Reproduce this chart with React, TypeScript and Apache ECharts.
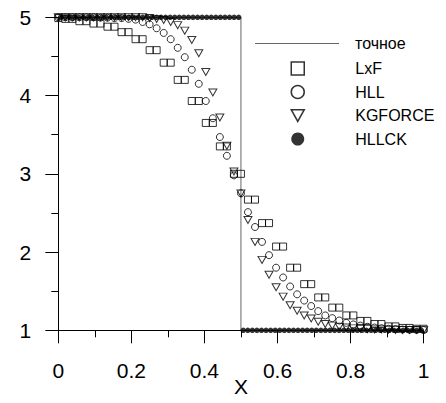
import React, { useEffect, useRef } from "react";
import * as echarts from "echarts";

const FONT = "'Liberation Sans', Arial, sans-serif";

// exact solution (step)
const exactX = [0, 0.5, 0.5, 1];
const exactY = [5, 5, 1, 1];

// grid nodes for LxF, HLL, KGFORCE
const meshX = [
  0, 0.0192, 0.0385, 0.0577, 0.0769, 0.0962, 0.1154, 0.1346, 0.1538, 0.1731,
  0.1923, 0.2115, 0.2308, 0.25, 0.2692, 0.2885, 0.3077, 0.3269, 0.3462, 0.3654,
  0.3846, 0.4038, 0.4231, 0.4423, 0.4615, 0.4808, 0.5, 0.5192, 0.5385, 0.5577,
  0.5769, 0.5962, 0.6154, 0.6346, 0.6538, 0.6731, 0.6923, 0.7115, 0.7308, 0.75,
  0.7692, 0.7885, 0.8077, 0.8269, 0.8462, 0.8654, 0.8846, 0.9038, 0.9231, 0.9423,
  0.9615, 0.9808, 1,
];

const lxfY = [
  4.99, 4.98, 4.98, 4.95, 4.95, 4.92, 4.92, 4.88, 4.88, 4.81,
  4.81, 4.72, 4.72, 4.58, 4.58, 4.42, 4.42, 4.2, 4.2, 3.93,
  3.93, 3.65, 3.65, 3.35, 3.35, 3.0, 3.0, 2.67, 2.67, 2.37,
  2.37, 2.07, 2.07, 1.8, 1.8, 1.59, 1.59, 1.42, 1.42, 1.29,
  1.29, 1.19, 1.19, 1.12, 1.12, 1.08, 1.08, 1.05, 1.05, 1.03,
  1.03, 1.02, 1.02,
];

const hllY = [
  5.0, 5.0, 5.0, 5.0, 5.0, 5.0, 4.995, 4.995, 4.99, 4.99,
  4.98, 4.97, 4.94, 4.91, 4.86, 4.8, 4.72, 4.61, 4.49, 4.33,
  4.15, 3.93, 3.71, 3.47, 3.23, 2.98, 2.75, 2.51, 2.32, 2.13,
  1.96, 1.8, 1.675, 1.56, 1.46, 1.38, 1.31, 1.245, 1.19, 1.155,
  1.125, 1.095, 1.075, 1.06, 1.045, 1.035, 1.027, 1.02, 1.015, 1.01,
  1.007, 1.005, 1.003,
];

const kgY = [
  5.0, 5.0, 5.0, 5.0, 5.0, 5.0, 5.0, 5.0, 5.0, 5.0,
  5.0, 5.0, 5.0, 4.99, 4.98, 4.965, 4.94, 4.9, 4.83, 4.71,
  4.54, 4.3, 4.04, 3.72, 3.36, 3.03, 2.75, 2.41, 2.13, 1.9,
  1.71, 1.55, 1.43, 1.32, 1.25, 1.19, 1.15, 1.11, 1.08, 1.06,
  1.045, 1.035, 1.025, 1.02, 1.015, 1.01, 1.01, 1.008, 1.006, 1.005,
  1.004, 1.003, 1.002,
];

// HLLCK cell centres (80 cells)
const cellX = [
  0.00625, 0.01875, 0.03125, 0.04375, 0.05625, 0.06875, 0.08125, 0.09375,
  0.10625, 0.11875, 0.13125, 0.14375, 0.15625, 0.16875, 0.18125, 0.19375,
  0.20625, 0.21875, 0.23125, 0.24375, 0.25625, 0.26875, 0.28125, 0.29375,
  0.30625, 0.31875, 0.33125, 0.34375, 0.35625, 0.36875, 0.38125, 0.39375,
  0.40625, 0.41875, 0.43125, 0.44375, 0.45625, 0.46875, 0.48125, 0.49375,
  0.50625, 0.51875, 0.53125, 0.54375, 0.55625, 0.56875, 0.58125, 0.59375,
  0.60625, 0.61875, 0.63125, 0.64375, 0.65625, 0.66875, 0.68125, 0.69375,
  0.70625, 0.71875, 0.73125, 0.74375, 0.75625, 0.76875, 0.78125, 0.79375,
  0.80625, 0.81875, 0.83125, 0.84375, 0.85625, 0.86875, 0.88125, 0.89375,
  0.90625, 0.91875, 0.93125, 0.94375, 0.95625, 0.96875, 0.98125, 0.99375,
];
const hllckY = [
  5, 5, 5, 5, 5, 5, 5, 5, 5, 5, 5, 5, 5, 5, 5, 5, 5, 5, 5, 5,
  5, 5, 5, 5, 5, 5, 5, 5, 5, 5, 5, 5, 5, 5, 5, 5, 5, 5, 5, 5,
  1, 1, 1, 1, 1, 1, 1, 1, 1, 1, 1, 1, 1, 1, 1, 1, 1, 1, 1, 1,
  1, 1, 1, 1, 1, 1, 1, 1, 1, 1, 1, 1, 1, 1, 1, 1, 1, 1, 1, 1,
];

const zip = (xs: number[], ys: number[]) => xs.map((x, i) => [x, ys[i]]);

const TRI = "path://M0,0L10,0L5,9Z";
const LINE_ICON = "path://M0,0L84,0L84,1L0,1Z";

export default function App() {
  const ref = useRef<HTMLDivElement>(null);
  useEffect(() => {
    if (!ref.current) return;
    const chart = echarts.init(ref.current, undefined, { renderer: "svg" });
    const hollow = { color: "rgba(0,0,0,0)", borderColor: "#000", borderWidth: 1 };
    const axisCommon = {
      type: "value" as const,
      axisLine: { show: true, onZero: false, lineStyle: { color: "#000", width: 1 } },
      axisTick: { show: true, inside: false, length: 13, lineStyle: { color: "#000", width: 1 } },
      minorTick: { show: true, splitNumber: 2, length: 7, lineStyle: { color: "#000", width: 1 } },
      splitLine: { show: false },
      minorSplitLine: { show: false },
    };
    chart.setOption({
      animation: false,
      textStyle: { fontFamily: FONT },
      grid: {
        left: 58.3,
        right: 22.4,
        top: 17.3,
        bottom: 72.7,
        containLabel: false,
        outerBoundsMode: "none",
      },
      xAxis: {
        ...axisCommon,
        min: 0,
        max: 1,
        interval: 0.2,
        axisLabel: { fontSize: 21, color: "#000", margin: 30, fontFamily: FONT },
        name: "X",
        nameLocation: "middle",
        nameGap: 46,
        nameMoveOverlap: false,
        nameTextStyle: { fontSize: 21, color: "#000", fontFamily: FONT },
      },
      yAxis: {
        ...axisCommon,
        min: 1,
        max: 5,
        interval: 1,
        axisLabel: { fontSize: 21, color: "#000", margin: 27, fontFamily: FONT },
      },
      legend: [
        {
          data: [{ name: "точное", icon: LINE_ICON }],
          left: 255,
          top: 35.5,
          padding: 0,
          itemWidth: 84,
          itemHeight: 13,
          symbolKeepAspect: true,
          selectedMode: false,
          itemStyle: { color: "#666", borderWidth: 0 },
          textStyle: { fontSize: 16, color: "#000", fontFamily: FONT, padding: [0, 0, 0, 11] },
        },
        {
          data: ["LxF", "HLL", "KGFORCE", "HLLCK"],
          orient: "vertical",
          left: 290.5,
          top: 60.5,
          padding: 0,
          itemWidth: 13,
          itemHeight: 13,
          itemGap: 7.5,
          selectedMode: false,
          itemStyle: { borderWidth: 1.5 },
          textStyle: { fontSize: 16, color: "#000", fontFamily: FONT, padding: [0, 0, 0, 46] },
        },
      ],
      series: [
        {
          name: "точное",
          type: "line",
          data: zip(exactX, exactY),
          symbol: "none",
          showSymbol: false,
          lineStyle: { color: "#666", width: 1 },
          itemStyle: { color: "#666" },
          z: 1,
        },
        {
          name: "LxF",
          type: "scatter",
          data: zip(meshX, lxfY),
          symbol: "rect",
          symbolSize: 7,
          itemStyle: hollow,
          clip: false,
          z: 2,
        },
        {
          name: "HLL",
          type: "scatter",
          data: zip(meshX, hllY),
          symbol: "circle",
          symbolSize: 7,
          itemStyle: hollow,
          clip: false,
          z: 3,
        },
        {
          name: "KGFORCE",
          type: "scatter",
          data: zip(meshX, kgY),
          symbol: TRI,
          symbolSize: [8, 7],
          itemStyle: hollow,
          clip: false,
          z: 4,
        },
        {
          name: "HLLCK",
          type: "scatter",
          data: zip(cellX, hllckY),
          symbol: "circle",
          symbolSize: 5.5,
          itemStyle: { color: "#000" },
          clip: false,
          z: 5,
        },
      ],
    });
    return () => chart.dispose();
  }, []);
  return (
    <div
      ref={ref}
      style={{ position: "fixed", left: 0, top: 0, width: 446, height: 403, background: "#fff" }}
    />
  );
}
